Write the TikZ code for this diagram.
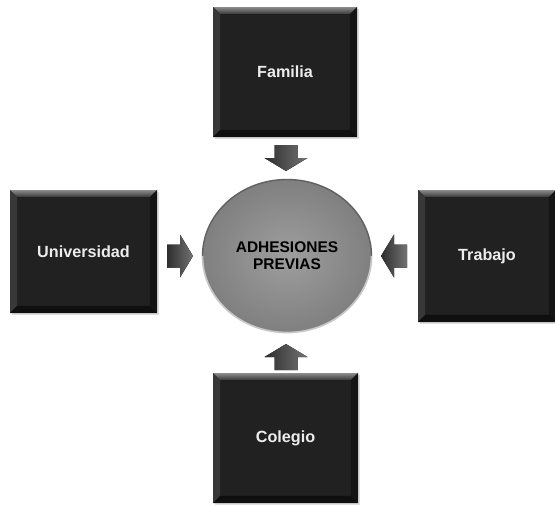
\documentclass[tikz,border=0pt]{standalone}
\usepackage{fontspec}
\setmainfont{Liberation Sans}
\usetikzlibrary{positioning,shapes.geometric,shadows}

\tikzset{
  caja/.style={
    fill=black!87, text=black!7, inner sep=0pt, outer sep=0pt,
    font=\bfseries\fontsize{11.5}{13}\selectfont,
    drop shadow={opacity=0.25, shadow xshift=1.2pt, shadow yshift=-1.5pt}
  },
  bola/.style={
    ellipse, inner sep=0pt, outer sep=0pt, align=center,
    inner color=black!38, outer color=black!50,
    font=\bfseries\fontsize{11}{12}\selectfont
  },
  flecha/.pic={
    \fill[left color=black!82, right color=black!55]
      (0,-11.5) -- (13,-11.5) -- (13,-21.5) -- (26,0)
      -- (13,21.5) -- (13,11.5) -- (0,11.5) -- cycle;
  }
}

% bevel round a box node: #1 node, #2 bevel width
\newcommand{\bisel}[2]{%
  \fill[top color=black!45, bottom color=black!78]
    (#1.north west) -- (#1.north east)
    -- ([shift={(-#2,-#2)}]#1.north east) -- ([shift={(#2,-#2)}]#1.north west) -- cycle;
  \fill[black!78]
    (#1.north west) -- ([shift={(#2,-#2)}]#1.north west)
    -- ([shift={(#2,#2)}]#1.south west) -- (#1.south west) -- cycle;
  \fill[black!92]
    (#1.north east) -- ([shift={(-#2,-#2)}]#1.north east)
    -- ([shift={(-#2,#2)}]#1.south east) -- (#1.south east) -- cycle;
  \fill[black!94]
    (#1.south west) -- ([shift={(#2,#2)}]#1.south west)
    -- ([shift={(-#2,#2)}]#1.south east) -- (#1.south east) -- cycle;
}

\begin{document}
\begin{tikzpicture}[x=0.025cm, y=-0.025cm]
  \def\px{0.025cm}
  \def\bw{5pt}
  \useasboundingbox (0,0) rectangle (555,506);

  % boxes
  \node[caja, minimum width=144*\px, minimum height=130*\px]
    (familia) at (285,72) {Familia};
  \node[caja, minimum width=147*\px, minimum height=123*\px]
    (universidad) at (83.5,251.5) {Universidad};
  \node[caja, minimum width=138*\px, minimum height=132*\px]
    (trabajo) at (487,256) {Trabajo};
  \node[caja, minimum width=145*\px, minimum height=130*\px]
    (colegio) at (285.5,438) {Colegio};
  \bisel{familia}{\bw}
  \bisel{universidad}{\bw}
  \bisel{trabajo}{\bw}
  \bisel{colegio}{\bw}

  % centre
  \node[bola, minimum width=169*\px, minimum height=153*\px]
    (centro) at (287,256) {ADHESIONES\\PREVIAS};
  \draw[black!62, line width=1pt]
    (centro.west) arc[start angle=180, end angle=0,
      x radius=84.5*\px, y radius=76.5*\px];
  \draw[black!22, line width=1.2pt]
    (centro.west) arc[start angle=180, end angle=360,
      x radius=84.5*\px, y radius=76.5*\px];

  % arrows
  \pic[rotate=-90] at (286,145) {flecha};
  \pic[rotate=90] at (286,370) {flecha};
  \pic at (167,256) {flecha};
  \pic[rotate=180] at (407,256) {flecha};
\end{tikzpicture}
\end{document}
